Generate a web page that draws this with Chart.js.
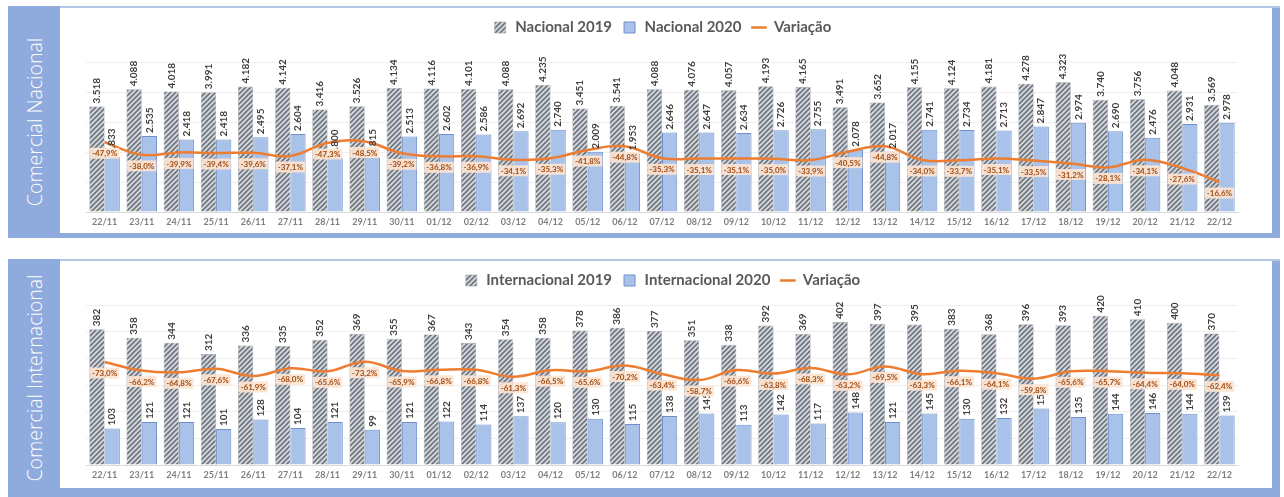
<!DOCTYPE html>
<html>
<head>
<meta charset="utf-8">
<script src="https://cdn.jsdelivr.net/npm/chart.js@4.4.1/dist/chart.umd.min.js"></script>
<style>
body { margin: 0; background: #fff; width: 1284px; height: 497px; position: relative; overflow: hidden; }
.panel { position: absolute; left: 8px; width: 1272px; background: #8FAADC; }
.topline { position: absolute; left: 52px; right: 0; top: 0; height: 2px; background: #B4C7E7; }
.inner { position: absolute; left: 52px; right: 8px; top: 2px; background: #fff; }
.side { position: absolute; left: 0; top: 0; bottom: 0; width: 52px; }
.side span { position: absolute; left: 50%; top: 50%; transform: translate(-50%, -50%) rotate(-90deg);
  white-space: nowrap; color: #fff; font: 300 19.5px "Open Sans", sans-serif; }
canvas { display: block; }
</style>
</head>
<body>

<div class="panel" style="top:6px;height:232px">
  <div class="side"><span>Comercial Nacional</span></div>
  <div class="topline"></div>
  <div class="inner" style="height:225px"><canvas id="nacional" width="1212" height="225"></canvas></div>
</div>

<div class="panel" style="top:259px;height:238px">
  <div class="side"><span>Comercial Internacional</span></div>
  <div class="topline"></div>
  <div class="inner" style="height:227px"><canvas id="internacional" width="1212" height="227"></canvas></div>
</div>

<script>
const dates = ["22/11","23/11","24/11","25/11","26/11","27/11","28/11","29/11","30/11",
  "01/12","02/12","03/12","04/12","05/12","06/12","07/12","08/12","09/12","10/12","11/12",
  "12/12","13/12","14/12","15/12","16/12","17/12","18/12","19/12","20/12","21/12","22/12"];

const nac2019 = [3518,4088,4018,3991,4182,4142,3416,3526,4134,4116,4101,4088,4235,3451,3541,4088,
  4076,4057,4193,4165,3491,3652,4155,4124,4181,4278,4323,3740,3756,4048,3569];
const nac2020 = [1833,2535,2418,2418,2495,2604,1800,1815,2513,2602,2586,2692,2740,2009,1953,2646,
  2647,2634,2726,2755,2078,2017,2741,2734,2713,2847,2974,2690,2476,2931,2978];
const nacVar = [-47.9,-38.0,-39.9,-39.4,-39.6,-37.1,-47.3,-48.5,-39.2,-36.8,-36.9,-34.1,-35.3,-41.8,
  -44.8,-35.3,-35.1,-35.1,-35.0,-33.9,-40.5,-44.8,-34.0,-33.7,-35.1,-33.5,-31.2,-28.1,-34.1,-27.6,-16.6];

const int2019 = [382,358,344,312,336,335,352,369,355,367,343,354,358,378,386,377,351,338,392,369,
  402,397,395,383,368,396,393,420,410,400,370];
const int2020 = [103,121,121,101,128,104,121,99,121,122,114,137,120,130,115,138,145,113,142,117,
  148,121,145,130,132,159,135,144,146,144,139];
const intVar = [-73.0,-66.2,-64.8,-67.6,-61.9,-68.0,-65.6,-73.2,-65.9,-66.8,-66.8,-61.3,-66.5,-65.6,
  -70.2,-63.4,-58.7,-66.6,-63.8,-68.3,-63.2,-69.5,-63.3,-66.1,-64.1,-59.8,-65.6,-65.7,-64.4,-64.0,-62.4];

const thousands = v => String(v).replace(/\B(?=(\d{3})+(?!\d))/g, ".");
const percent = v => v.toFixed(1).replace(".", ",") + "%";

const hatch = ctx => {
    const c = document.createElement("canvas");
    c.width = c.height = 5;
    const g = c.getContext("2d");
    g.fillStyle = "#d0d3d8";
    g.fillRect(0, 0, 5, 5);
    g.strokeStyle = "#646c76";
    g.lineWidth = 1.5;
    g.beginPath();
    g.moveTo(0, 5); g.lineTo(5, 0);
    g.moveTo(-1, 1); g.lineTo(1, -1);
    g.moveTo(4, 6); g.lineTo(6, 4);
    g.stroke();
    return ctx.createPattern(c, "repeat");
};

// draws the value labels on bars and on the line
const labelsPlugin = {
    id: "valueLabels",
    beforeInit(chart, args, opts) {
        const fit = chart.legend.fit;
        chart.legend.fit = function () {
            fit.call(this);
            this.height += opts.legendExtra || 0;
        };
    },
    afterDatasetsDraw(chart) {
        const ctx = chart.ctx;
        ctx.save();
        chart.data.datasets.forEach((ds, di) => {
            const meta = chart.getDatasetMeta(di);
            meta.data.forEach((el, i) => {
                const v = ds.data[i];
                if (ds.type === "line") {
                    const txt = percent(v);
                    ctx.font = "bold 8px Lato";
                    const w = ctx.measureText(txt).width + 4;
                    const y = el.y + 11;
                    ctx.fillStyle = "rgba(252,228,210,0.92)";
                    ctx.fillRect(el.x - w / 2, y - 5.5, w, 11);
                    ctx.fillStyle = "#a24c12";
                    ctx.textAlign = "center";
                    ctx.textBaseline = "middle";
                    ctx.fillText(txt, el.x, y + 0.5);
                } else {
                    ctx.save();
                    ctx.translate(el.x, el.y - 3);
                    ctx.rotate(-Math.PI / 2);
                    ctx.font = "bold 10px Lato";
                    ctx.fillStyle = "#3f3f3f";
                    ctx.textAlign = "left";
                    ctx.textBaseline = "middle";
                    ctx.fillText(thousands(v), 0, 0);
                    ctx.restore();
                }
            });
        });
        ctx.restore();
    }
};

const makeChart = (id, names, v2019, v2020, variation, barMax, barStep, varMin, varMax, legendExtra, xHeight) => {
    const canvas = document.getElementById(id);
    const ctx = canvas.getContext("2d");
    return new Chart(ctx, {
        data: {
            labels: dates,
            datasets: [
                {
                    type: "bar", label: names[0], data: v2019, yAxisID: "y",
                    backgroundColor: hatch(ctx), borderColor: "#9aa0a8", borderWidth: 0.6,
                    pointStyle: "rect", order: 1,
                    categoryPercentage: 0.82, barPercentage: 1.0
                },
                {
                    type: "bar", label: names[1], data: v2020, yAxisID: "y",
                    backgroundColor: "#A9C2EA", borderColor: "#6F91CA", borderWidth: 1,
                    pointStyle: "rect", order: 1,
                    categoryPercentage: 0.82, barPercentage: 1.0
                },
                {
                    type: "line", label: "Variação", data: variation, yAxisID: "y2",
                    borderColor: "#ED7D31", backgroundColor: "#ED7D31", borderWidth: 2.5,
                    tension: 0.4, pointRadius: 0, pointStyle: "line", order: 0
                }
            ]
        },
        options: {
            responsive: false,
            animation: false,
            layout: { padding: { left: 26, right: 34, top: 2, bottom: 0 } },
            plugins: {
                legend: {
                    position: "top",
                    labels: {
                        usePointStyle: true, boxHeight: 11, padding: 10,
                        color: "#595959", font: { family: "Lato", size: 15, weight: "bold" },
                        sort: (a, b) => a.datasetIndex - b.datasetIndex
                    }
                },
                tooltip: { enabled: false },
                valueLabels: { legendExtra: legendExtra }
            },
            scales: {
                x: {
                    grid: { display: false, drawTicks: false },
                    border: { display: true, color: "#d9d9d9" },
                    ticks: { color: "#7f7f7f", font: { family: "Lato", size: 9, weight: "bold" },
                        padding: 5, maxRotation: 0, autoSkip: false },
                    afterFit: s => { s.height = xHeight; }
                },
                y: {
                    min: 0, max: barMax,
                    ticks: { display: false, stepSize: barStep },
                    grid: { color: "#efefef", drawTicks: false },
                    border: { display: false },
                    afterFit: s => { s.width = 0; }
                },
                y2: {
                    display: false, reverse: true, min: varMin, max: varMax
                }
            }
        },
        plugins: [labelsPlugin]
    });
};

makeChart("nacional", ["Nacional 2019", "Nacional 2020"], nac2019, nac2020, nacVar,
    5000, 1000, -111.1, 7.0, 17, 21);
makeChart("internacional", ["Internacional 2019", "Internacional 2020"], int2019, int2020, intVar,
    450, 75, -118.2, 8.7, 7, 23);
</script>
</body>
</html>
